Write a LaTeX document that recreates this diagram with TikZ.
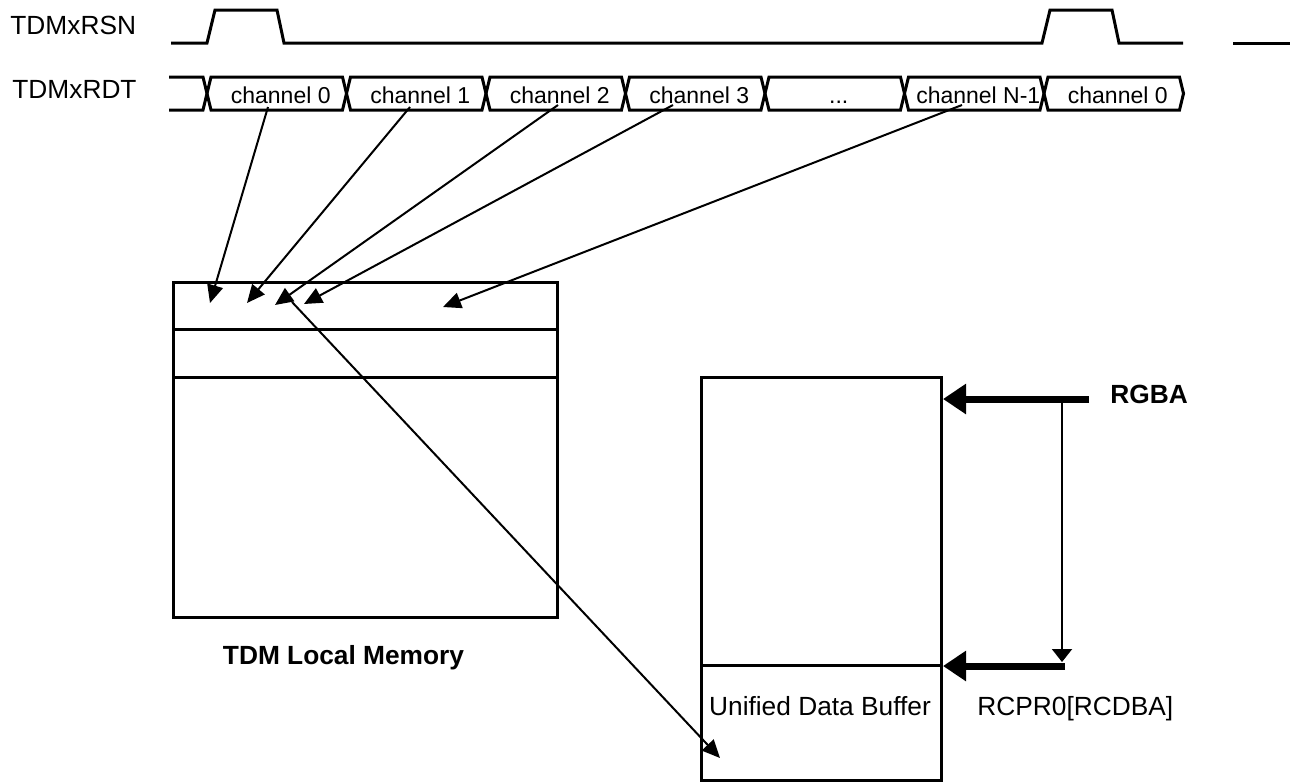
\documentclass[tikz,border=0pt]{standalone}
\usepackage{fontspec}
\setmainfont{Liberation Sans}
\usetikzlibrary{arrows.meta}
\newcommand{\mythreedots}{...}
\begin{document}
\begin{tikzpicture}[x=0.5pt,y=-0.5pt,
  wave/.style={line width=1.5pt},
  boxnode/.style={draw,line width=1.5pt,inner sep=0pt},
  rowline/.style={line width=1.5pt},
  lbl/.style={font=\fontsize{13.15}{15}\selectfont,inner sep=0pt},
  boldlbl/.style={font=\fontsize{13.15}{15}\selectfont\bfseries,inner sep=0pt},
  chtext/.style={font=\fontsize{11.5}{13}\selectfont,inner sep=0pt},
  thinarrow/.style={line width=1pt,-{Triangle[length=9pt,width=8pt]}},
  thickarrow/.style={line width=3.5pt,-{Triangle[length=11.5pt,width=14.5pt]}},
  vertarrow/.style={line width=1pt,-{Triangle[length=6.5pt,width=10pt]}}]
\useasboundingbox (0,0) rectangle (1290,783);

% signal labels
\node[lbl,anchor=base west] (rsn) at (10,34) {TDMxRSN};
\node[lbl,anchor=base west] (rdt) at (12,98) {TDMxRDT};

% TDMxRSN waveform
\draw[wave] (171,43) -- (207,43) -- (215,10) -- (277,10) -- (284,43) -- (1042,43)
  -- (1050,10) -- (1112,10) -- (1119,43) -- (1183,43);
\draw[wave] (1233,43) -- (1290,43);

% TDMxRDT waveform
\draw[wave] (169,77) -- (203,77) -- (207,93.5) -- (203,110) -- (169,110);
\foreach \i/\t in {0/channel 0,1/channel 1,2/channel 2,3/channel 3,4/\mythreedots,5/channel N-1,6/channel 0}{
  \pgfmathsetmacro\a{207+139.5*\i}
  \pgfmathsetmacro\b{\a+139.5}
  \draw[wave] (\a+4,77) -- (\b-4,77) -- (\b,93.5) -- (\b-4,110) -- (\a+4,110) -- (\a,93.5) -- cycle;
  \node[chtext,anchor=base] (ch\i) at ({(\a+\b)/2+4},103) {\t};
}

% TDM local memory
\node[boxnode,minimum width=192pt,minimum height=167.5pt] (mem) at (365,449.5) {};
\draw[rowline] (173,329) -- (557,329);
\draw[rowline] (173,377) -- (557,377);
\node[boldlbl,anchor=base] (memlbl) at (343.5,664) {TDM Local Memory};

% Unified data buffer
\node[boxnode,minimum width=120pt,minimum height=201.5pt] (udb) at (821,578.5) {};
\draw[rowline] (701,665) -- (941,665);
\node[lbl,anchor=base] (udblbl) at (820,715) {Unified Data Buffer};

% arrow end points
\coordinate (s0) at (268,107);
\coordinate (s1) at (410,107);
\coordinate (s2) at (558,105);
\coordinate (s3) at (673,105);
\coordinate (s6) at (962,105);
\coordinate (t0) at (210,303);
\coordinate (t1) at (247,303);
\coordinate (t2) at (275,305);
\coordinate (t3) at (304,304);
\coordinate (t6) at (443,307);
\coordinate (dstart) at (292,302);
\coordinate (dend) at (720,758);

\draw[thinarrow] (s0) -- (t0);
\draw[thinarrow] (s1) -- (t1);
\draw[thinarrow] (s2) -- (t2);
\draw[thinarrow] (s3) -- (t3);
\draw[thinarrow] (s6) -- (t6);
\draw[thinarrow] (dstart) -- (dend);

% RGBA / RCPR0
\node[boldlbl,anchor=base west] (rgba) at (1110,403) {RGBA};
\node[lbl,anchor=base west] (rcpr) at (977,715) {RCPR0[RCDBA]};
\coordinate (ra) at (1089,399);
\coordinate (rtip) at (943,399);
\coordinate (vtop) at (1062,399);
\coordinate (vbot) at (1062,662);
\coordinate (lb) at (1065,666);
\coordinate (ltip) at (943,666);
\draw[thickarrow] (ra) -- (rtip);
\draw[vertarrow] (vtop) -- (vbot);
\draw[thickarrow] (lb) -- (ltip);
\end{tikzpicture}
\end{document}
